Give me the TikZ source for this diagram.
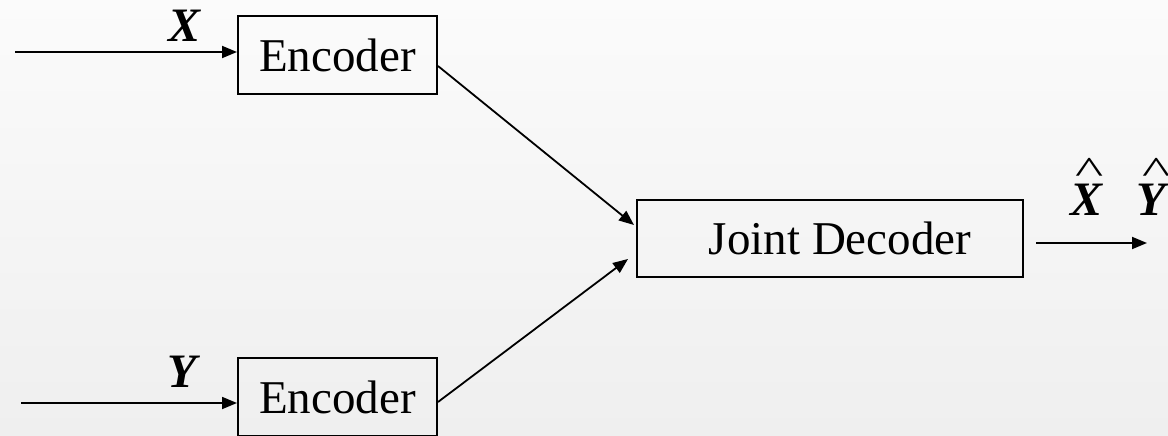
\documentclass[tikz,border=0pt]{standalone}
\usepackage{fontspec}
\setmainfont{Liberation Serif}
\usetikzlibrary{arrows.meta,calc}
\definecolor{bgtop}{HTML}{FBFBFB}
\definecolor{bgbot}{HTML}{EFEFEF}
% letter with a circumflex set above it: #1 horizontal kern of the hat, #2 the letter
\newcommand{\mkhat}[2]{\leavevmode\setbox0=\hbox{#2}%
  \rlap{\hbox to \wd0{\hss\hspace*{#1}\raisebox{32pt}{\scalebox{1}[0.64]{\fontsize{60}{60}\selectfont\mdseries\upshape\textasciicircum}}\hss}}#2}
\begin{document}
\begin{tikzpicture}[x=1pt,y=-1pt,
  block/.style={draw=black,line width=2pt,fill=none,inner sep=0pt,
    font=\fontsize{47}{56}\selectfont},
  link/.style={line width=1.8pt,-{Triangle[length=15pt,width=12pt]}},
  sym/.style={font=\fontsize{48}{56}\selectfont\bfseries\itshape,inner sep=0pt,anchor=base}]
  % background
  \shade[top color=bgtop,bottom color=bgbot] (0,0) rectangle (1168,436);
  \useasboundingbox (0,0) rectangle (1168,436);
  % blocks
  \node[block,minimum width=199pt,minimum height=78pt] (enc1) at (337.5,55) {Encoder};
  \node[block,minimum width=199pt,minimum height=78pt] (enc2) at (337.5,397) {Encoder};
  \node[block,minimum width=386pt,minimum height=77pt] (dec) at (830,238.5) {\hspace*{20pt}Joint Decoder};
  % inputs
  \coordinate (xin) at (15,52);
  \coordinate (yin) at (21,403);
  \draw[link] (xin) -- (xin -| enc1.west);
  \draw[link] (yin) -- (yin -| enc2.west);
  \node[sym] (xl) at (185,42) {X};
  \node[sym] (yl) at (182,387) {Y};
  % encoders to decoder
  \draw[link] ($(enc1.east)+(0,11)$) -- ($(dec.west)+(-2,-13.5)$);
  \draw[link] ($(enc2.east)+(0,5)$) -- ($(dec.west)+(-8,20.5)$);
  % output
  \coordinate (out) at (1147,243);
  \draw[link] ($(dec.east |- out)+(12,0)$) -- (out);
  \node[sym] (xh) at (1086,215) {\mkhat{7pt}{X}};
  \node[sym] (yh) at (1151,215) {\mkhat{12pt}{Y}};
\end{tikzpicture}
\end{document}
